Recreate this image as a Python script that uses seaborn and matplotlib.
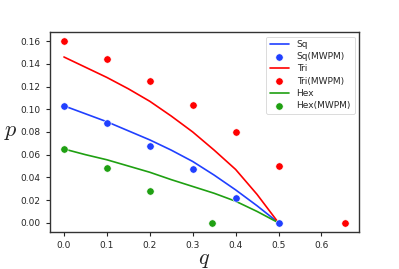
import numpy as np
import pandas as pd
import seaborn as sns
import matplotlib
matplotlib.use('Agg')
import matplotlib.pyplot as plt

# threshold curves
q_curve = [0.0, 0.05, 0.1, 0.15, 0.2, 0.25, 0.3, 0.35, 0.4, 0.45, 0.5]
sq_curve = [0.103, 0.096, 0.089, 0.081, 0.073, 0.064, 0.054, 0.042, 0.029, 0.015, 0.0]
tri_curve = [0.146, 0.137, 0.128, 0.118, 0.107, 0.094, 0.080, 0.064, 0.047, 0.025, 0.0]
hex_curve = [0.065, 0.060, 0.0555, 0.050, 0.0445, 0.038, 0.032, 0.026, 0.019, 0.010, 0.0]

# MWPM points
sq_q = [0.0, 0.1, 0.2, 0.3, 0.4, 0.5]
sq_p = [0.103, 0.088, 0.068, 0.047, 0.022, 0.0]
tri_q = [0.0, 0.1, 0.2, 0.3, 0.4, 0.5, 0.655]
tri_p = [0.160, 0.144, 0.125, 0.104, 0.080, 0.050, 0.0]
hex_q = [0.0, 0.1, 0.2, 0.345]
hex_p = [0.065, 0.048, 0.028, 0.0]

BLUE = '#2040ff'
RED = '#ff0000'
GREEN = '#1fa012'

sns.set_style('ticks')
plt.rcParams['mathtext.fontset'] = 'cm'
fig = plt.figure(figsize=(3.99, 2.69), dpi=100)
ax = fig.add_axes([0.125, 0.138, 0.775, 0.743])

sns.lineplot(x=q_curve, y=sq_curve, color=BLUE, lw=1.2, label='Sq', ax=ax)
sns.scatterplot(x=sq_q, y=sq_p, color=BLUE, s=28, linewidth=0.4, label='Sq(MWPM)', ax=ax, zorder=3)
sns.lineplot(x=q_curve, y=tri_curve, color=RED, lw=1.2, label='Tri', ax=ax)
sns.scatterplot(x=tri_q, y=tri_p, color=RED, s=28, linewidth=0.4, label='Tri(MWPM)', ax=ax, zorder=3)
sns.lineplot(x=q_curve, y=hex_curve, color=GREEN, lw=1.2, label='Hex', ax=ax)
sns.scatterplot(x=hex_q, y=hex_p, color=GREEN, s=28, linewidth=0.4, label='Hex(MWPM)', ax=ax, zorder=3)

ax.set_xticks([0.0, 0.1, 0.2, 0.3, 0.4, 0.5, 0.6])
ax.set_yticks(np.arange(0, 0.161, 0.02))
ax.set_xlim(-0.0328, 0.6878)
ax.set_ylim(-0.008, 0.168)
ax.tick_params(labelsize=6.5, length=3, width=0.8)
for sp in ax.spines.values():
    sp.set_linewidth(1.0)
    sp.set_color('#333333')

ax.set_xlabel('$q$', fontsize=16, labelpad=0)
ax.set_ylabel('$p$', fontsize=16, rotation=0, labelpad=7, va='center')

leg = ax.legend(loc='upper right', fontsize=6.5, frameon=True, handlelength=2.2,
                borderpad=0.4, labelspacing=0.35)
leg.get_frame().set_linewidth(0.6)

fig.savefig('out.png', dpi=100)
